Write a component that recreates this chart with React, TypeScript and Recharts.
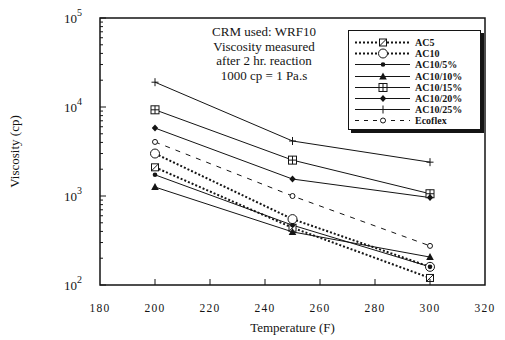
import React from 'react';
import { LineChart, Line, XAxis, YAxis, ReferenceArea } from 'recharts';

const W = 505;
const H = 340;
const PLOT = { left: 100, right: 485, top: 18, bottom: 285 };
const INK = '#141414';
const FONT = '"Liberation Serif", "DejaVu Serif", serif';

// ─── Data ───────────────────────────────────────────────────────────────────
const temps = [200, 250, 300];
const ac5 = [2100, 440, 120];
const ac10 = [3000, 550, 160];
const ac10_5 = [1730, 470, 160];
const ac10_10 = [1260, 395, 206];
const ac10_15 = [9300, 2530, 1060];
const ac10_20 = [5800, 1550, 960];
const ac10_25 = [19000, 4150, 2400];
const ecoflex = [4050, 1000, 275];

const xTicks = [180, 200, 220, 240, 260, 280, 300, 320];
const yMajorTicks = [100, 1000, 10000, 100000];
const yMinorSteps = [2, 3, 4, 5, 6, 7, 8, 9];
const yTicks = yMajorTicks.flatMap((m, i) =>
  i < yMajorTicks.length - 1 ? [m, ...yMinorSteps.map(s => m * s)] : [m]
);

const annotation = ['CRM used: WRF10', 'Viscosity measured', 'after 2 hr. reaction', '1000 cp = 1 Pa.s'];

type Shape = 'squareX' | 'circle' | 'dot' | 'triangle' | 'squarePlus' | 'diamond' | 'plus' | 'smallCircle';

const series: { name: string; values: number[]; dash?: string; width: number; shape: Shape }[] = [
  { name: 'AC5', values: ac5, dash: '2 2', width: 2, shape: 'squareX' },
  { name: 'AC10', values: ac10, dash: '2 2', width: 2, shape: 'circle' },
  { name: 'AC10/5%', values: ac10_5, width: 1, shape: 'dot' },
  { name: 'AC10/10%', values: ac10_10, width: 1, shape: 'triangle' },
  { name: 'AC10/15%', values: ac10_15, width: 1, shape: 'squarePlus' },
  { name: 'AC10/20%', values: ac10_20, width: 1, shape: 'diamond' },
  { name: 'AC10/25%', values: ac10_25, width: 1, shape: 'plus' },
  { name: 'Ecoflex', values: ecoflex, dash: '5 6', width: 1, shape: 'smallCircle' },
];

const chartData = temps.map((t, i) => {
  const row: Record<string, number> = { temp: t };
  series.forEach(s => { row[s.name] = s.values[i]; });
  return row;
});

// ─── Markers ────────────────────────────────────────────────────────────────
function Marker({ cx, cy, shape }: { cx: number; cy: number; shape: Shape }) {
  const sw = 1;
  switch (shape) {
    case 'squareX':
      return (
        <g stroke={INK} strokeWidth={sw}>
          <rect x={cx - 3.5} y={cy - 3.5} width={7} height={7} fill="#fff" />
          <line x1={cx - 3.5} y1={cy + 3.5} x2={cx + 3.5} y2={cy - 3.5} />
        </g>
      );
    case 'circle':
      return <circle cx={cx} cy={cy} r={4.5} fill="#fff" stroke={INK} strokeWidth={sw} />;
    case 'dot':
      return <circle cx={cx} cy={cy} r={2.3} fill={INK} />;
    case 'triangle':
      return <polygon points={`${cx},${cy - 4} ${cx - 3.8},${cy + 3} ${cx + 3.8},${cy + 3}`} fill={INK} />;
    case 'squarePlus':
      return (
        <g stroke={INK} strokeWidth={sw}>
          <rect x={cx - 4} y={cy - 4} width={8} height={8} fill="#fff" />
          <line x1={cx - 4} y1={cy} x2={cx + 4} y2={cy} />
          <line x1={cx} y1={cy - 4} x2={cx} y2={cy + 4} />
        </g>
      );
    case 'diamond':
      return <polygon points={`${cx},${cy - 3.5} ${cx + 3.2},${cy} ${cx},${cy + 3.5} ${cx - 3.2},${cy}`} fill={INK} />;
    case 'plus':
      return (
        <g stroke={INK} strokeWidth={sw}>
          <line x1={cx - 3.5} y1={cy} x2={cx + 3.5} y2={cy} />
          <line x1={cx} y1={cy - 4} x2={cx} y2={cy + 4} />
        </g>
      );
    case 'smallCircle':
      return <circle cx={cx} cy={cy} r={2.5} fill="#fff" stroke={INK} strokeWidth={sw} />;
  }
}

const dotFor = (shape: Shape) => (p: any) => (
  <Marker key={`${shape}-${p.index}`} cx={p.cx} cy={p.cy} shape={shape} />
);

// ─── Ticks ──────────────────────────────────────────────────────────────────
function YTick({ y, payload }: any) {
  const v = payload.value;
  const major = yMajorTicks.includes(v);
  const exp = Math.round(Math.log10(v));
  return (
    <g>
      <line x1={PLOT.left} x2={PLOT.left + (major ? 6 : 3)} y1={y} y2={y} stroke={INK} strokeWidth={1} />
      {major && (
        <text x={82} y={y + 5} textAnchor="end" fontFamily={FONT} fontSize={13} fill={INK}>
          10<tspan dy={-7} fontSize={10}>{exp}</tspan>
        </text>
      )}
    </g>
  );
}

function XTick({ x, payload }: any) {
  const v = payload.value;
  const inner = v > xTicks[0] && v < xTicks[xTicks.length - 1];
  return (
    <g>
      {inner && <line x1={x} x2={x} y1={PLOT.bottom} y2={PLOT.bottom - 6} stroke={INK} strokeWidth={1} />}
      <text x={x} y={PLOT.bottom + 27} textAnchor="middle" fontFamily={FONT} fontSize={11.5}
        fill={INK} letterSpacing={1.2}>
        {v}
      </text>
    </g>
  );
}

// ─── Legend ─────────────────────────────────────────────────────────────────
function LegendBox() {
  return (
    <div style={{
      position: 'absolute', left: 348, top: 30, width: 133, height: 100,
      border: `1.5px solid ${INK}`, boxShadow: `3px 3px 0 ${INK}`, background: '#fff',
      paddingTop: 6, boxSizing: 'border-box',
    }}>
      {series.map(s => (
        <div key={s.name} style={{ display: 'flex', alignItems: 'center', height: 11.2 }}>
          <svg width={66} height={11} style={{ flex: 'none' }}>
            <line x1={6} x2={61} y1={5.5} y2={5.5} stroke={INK} strokeWidth={s.width}
              strokeDasharray={s.dash === '5 6' ? '4 5' : s.dash} />
            <Marker cx={34} cy={5.5} shape={s.shape} />
          </svg>
          <span style={{ fontFamily: FONT, fontSize: 10, fontWeight: 'bold', color: INK, lineHeight: '11px' }}>
            {s.name}
          </span>
        </div>
      ))}
    </div>
  );
}

export default function App() {
  return (
    <div style={{ position: 'relative', width: W, height: H, background: '#fff' }}>
      <style>{'body{margin:0}'}</style>
      <LineChart width={W} height={H} data={chartData}
        margin={{ top: PLOT.top, right: W - PLOT.right, bottom: 0, left: 0 }}>
        <ReferenceArea x1={180} x2={320} y1={100} y2={100000} fill="none" stroke={INK}
          strokeWidth={1.5} ifOverflow="extendDomain" />
        <XAxis dataKey="temp" type="number" domain={[180, 320]} ticks={xTicks} interval={0}
          axisLine={false} tickLine={false} tick={<XTick />} height={H - PLOT.bottom}
          label={{ value: 'Temperature (F)', position: 'insideBottom', offset: 8,
            style: { fontFamily: FONT, fontSize: 13, fill: INK } }} />
        <YAxis type="number" scale="log" domain={[100, 100000]} ticks={yTicks} interval={0}
          allowDataOverflow axisLine={false} tickLine={false} tick={<YTick />} width={PLOT.left}
          label={{ value: 'Viscosity (cp)', angle: -90, position: 'insideLeft', offset: 14,
            style: { fontFamily: FONT, fontSize: 13, fill: INK, textAnchor: 'middle' } }} />
        {series.map(s => (
          <Line key={s.name} dataKey={s.name} type="linear" stroke={INK} strokeWidth={s.width}
            strokeDasharray={s.dash} dot={dotFor(s.shape)} activeDot={false}
            isAnimationActive={false} />
        ))}
      </LineChart>
      <div style={{
        position: 'absolute', left: 184, top: 25, width: 160, textAlign: 'center',
        fontFamily: FONT, fontSize: 13, lineHeight: '14.5px', color: INK,
      }}>
        {annotation.map(t => <div key={t}>{t}</div>)}
      </div>
      <LegendBox />
    </div>
  );
}
